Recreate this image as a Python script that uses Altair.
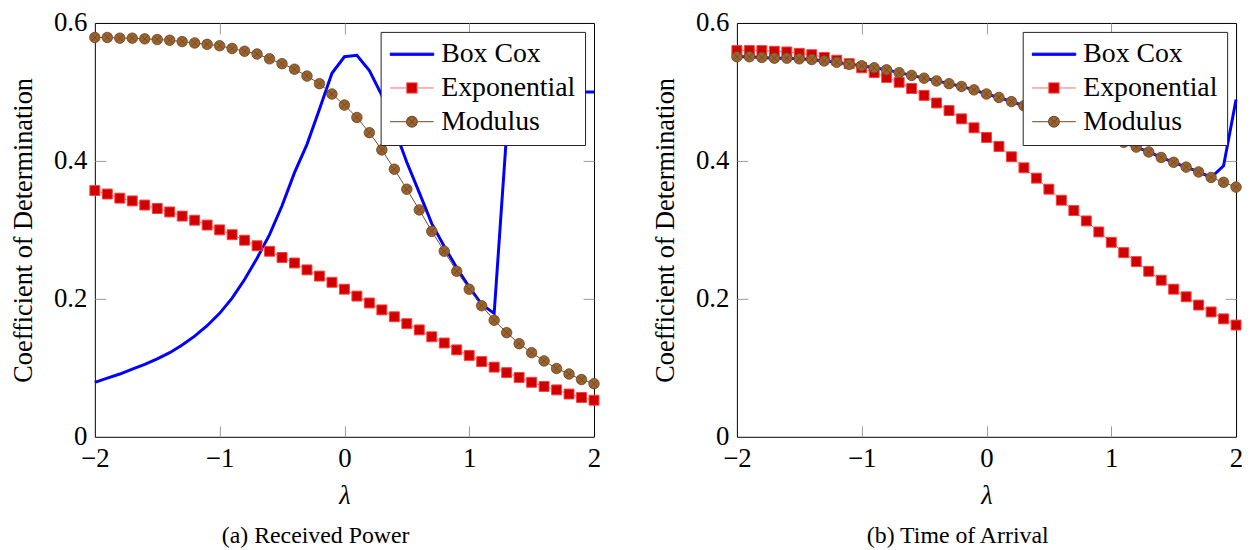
import altair as alt
import pandas as pd

# ---------------- data ----------------
lam = [-2.0, -1.9, -1.8, -1.7, -1.6, -1.5, -1.4, -1.3, -1.2, -1.1,
       -1.0, -0.9, -0.8, -0.7, -0.6, -0.5, -0.4, -0.3, -0.2, -0.1,
       0.0, 0.1, 0.2, 0.3, 0.4, 0.5, 0.6, 0.7, 0.8, 0.9,
       1.0, 1.1, 1.2, 1.3, 1.4, 1.5, 1.6, 1.7, 1.8, 1.9, 2.0]

series_names = ["Box Cox", "Exponential", "Modulus"]

# (a) Received Power
rp_boxcox = [0.079, 0.085, 0.091, 0.098, 0.105, 0.113, 0.122, 0.133, 0.146, 0.161,
             0.179, 0.201, 0.228, 0.259, 0.293, 0.335, 0.383, 0.424, 0.475, 0.527,
             0.551, 0.553, 0.531, 0.495, 0.447, 0.398, 0.354, 0.309, 0.276, 0.245,
             0.217, 0.192, 0.179, 0.440, 0.500, 0.500, 0.500, 0.500, 0.500, 0.500, 0.500]
rp_exp = [0.357, 0.352, 0.346, 0.342, 0.336, 0.331, 0.326, 0.320, 0.314, 0.307,
          0.300, 0.293, 0.285, 0.277, 0.269, 0.260, 0.252, 0.242, 0.233, 0.224,
          0.214, 0.204, 0.194, 0.184, 0.174, 0.164, 0.155, 0.145, 0.136, 0.126,
          0.118, 0.109, 0.101, 0.093, 0.086, 0.079, 0.073, 0.068, 0.062, 0.057, 0.053]
rp_mod = [0.579, 0.579, 0.578, 0.578, 0.577, 0.576, 0.575, 0.573, 0.571, 0.569,
          0.567, 0.563, 0.559, 0.555, 0.548, 0.541, 0.533, 0.523, 0.512, 0.497,
          0.481, 0.463, 0.441, 0.416, 0.388, 0.359, 0.329, 0.298, 0.269, 0.240,
          0.214, 0.190, 0.169, 0.151, 0.135, 0.122, 0.110, 0.099, 0.091, 0.083, 0.077]

# (b) Time of Arrival
toa_boxcox = [0.551, 0.551, 0.550, 0.549, 0.549, 0.548, 0.547, 0.545, 0.543, 0.540,
              0.538, 0.535, 0.532, 0.528, 0.524, 0.520, 0.516, 0.512, 0.508, 0.503,
              0.497, 0.492, 0.486, 0.480, 0.474, 0.467, 0.460, 0.453, 0.446, 0.439,
              0.433, 0.427, 0.420, 0.413, 0.405, 0.398, 0.391, 0.384, 0.376, 0.393, 0.489]
toa_exp = [0.560, 0.560, 0.560, 0.559, 0.558, 0.556, 0.554, 0.550, 0.546, 0.541,
           0.535, 0.528, 0.521, 0.514, 0.505, 0.495, 0.484, 0.473, 0.461, 0.448,
           0.434, 0.421, 0.406, 0.390, 0.375, 0.359, 0.343, 0.328, 0.313, 0.297,
           0.282, 0.267, 0.254, 0.240, 0.227, 0.214, 0.203, 0.191, 0.181, 0.171, 0.162]
toa_mod = [0.551, 0.551, 0.550, 0.549, 0.549, 0.548, 0.547, 0.545, 0.543, 0.540,
           0.538, 0.535, 0.532, 0.528, 0.524, 0.520, 0.516, 0.512, 0.508, 0.503,
           0.497, 0.492, 0.486, 0.480, 0.474, 0.467, 0.460, 0.453, 0.446, 0.439,
           0.433, 0.427, 0.420, 0.413, 0.405, 0.398, 0.391, 0.384, 0.376, 0.369, 0.362]

x_ticks = [-2, -1, 0, 1, 2]
y_ticks = [0, 0.2, 0.4, 0.6]
x_inner = [-1, 0, 1]
y_inner = [0.2, 0.4]

FONT = "Liberation Serif"

# marker / legend symbol shapes (unit box -1..1)
MOD_MARK = ("M1,0A1,1 0 1,1 -1,0A1,1 0 1,1 1,0Z"
            "M-0.7,-0.7L0.7,0.7M-0.7,0.7L0.7,-0.7")
LEG_BOX = "M-1,-0.05H1V0.05H-1Z"
LEG_EXP = "M-1,0H-0.24M0.24,0H1M-0.24,-0.24H0.24V0.24H-0.24Z"
LEG_MOD = ("M-1,0H-0.25M0.25,0H1"
           "M0.25,0A0.25,0.25 0 1,1 -0.25,0A0.25,0.25 0 1,1 0.25,0Z"
           "M-0.18,-0.18L0.18,0.18M-0.18,0.18L0.18,-0.18")


def make_df(boxcox, expo, mod):
    rows = []
    for name, vals in zip(series_names, [boxcox, expo, mod]):
        for lv, v in zip(lam, vals):
            rows.append({"lam": lv, "val": v, "series": name})
    return pd.DataFrame(rows)


xs = alt.Scale(domain=[-2, 2], nice=False, zero=False)
ys = alt.Scale(domain=[0, 0.6], nice=False, zero=False)

TEXT = dict(labelFont=FONT, labelFontSize=27, labelColor="black",
            titleFont=FONT, titleFontSize=26.5, titleFontWeight="normal",
            titleColor="black")


def tick_axis(orient, values):
    return alt.Axis(orient=orient, offset=-11, tickSize=11, tickColor="#9a9a9a",
                    tickWidth=1, labels=False, domain=False, grid=False,
                    title=None, values=values, minExtent=0)


def panel(df, caption):
    base = alt.Chart(df)

    main = base.mark_line(opacity=0).encode(
        x=alt.X("lam:Q", scale=xs, axis=alt.Axis(
            orient="bottom", values=x_ticks, format="d", ticks=False, domain=False,
            grid=False, labelPadding=9, labelFlush=False, labelOverlap=False,
            title="λ", titleFontStyle="italic", titlePadding=11, **TEXT)),
        y=alt.Y("val:Q", scale=ys, axis=alt.Axis(
            orient="left", values=y_ticks,
            labelExpr="datum.value == 0 ? '0' : format(datum.value, '.1f')",
            ticks=False, domain=False, grid=False, labelPadding=8,
            labelFlush=False, labelOverlap=False,
            title="Coefficient of Determination", titlePadding=16, **TEXT)),
        detail="series:N",
    )
    ticks_a = base.mark_line(opacity=0).encode(
        x=alt.X("lam:Q", scale=xs, axis=tick_axis("bottom", x_inner)),
        y=alt.Y("val:Q", scale=ys, axis=tick_axis("left", y_inner)),
        detail="series:N",
    )
    ticks_b = base.mark_line(opacity=0).encode(
        x=alt.X("lam:Q", scale=xs, axis=tick_axis("top", x_inner)),
        y=alt.Y("val:Q", scale=ys, axis=tick_axis("right", y_inner)),
        detail="series:N",
    )

    def xy():
        return dict(x=alt.X("lam:Q", scale=xs, axis=None),
                    y=alt.Y("val:Q", scale=ys, axis=None))

    box = base.transform_filter(alt.datum.series == "Box Cox").mark_line(
        color="#0000ff", strokeWidth=3).encode(**xy())
    exp_line = base.transform_filter(alt.datum.series == "Exponential").mark_line(
        color="#ff7070", strokeWidth=1).encode(**xy())
    exp_pts = base.transform_filter(alt.datum.series == "Exponential").mark_point(
        shape="square", filled=True, fill="#d00000", stroke="#ff3c3c",
        strokeWidth=1, size=100, opacity=1).encode(**xy())
    mod_line = base.transform_filter(alt.datum.series == "Modulus").mark_line(
        color="#7a4a20", strokeWidth=1).encode(**xy())
    mod_pts = base.transform_filter(alt.datum.series == "Modulus").mark_point(
        shape=MOD_MARK, filled=True, fill="#9a6430", stroke="#6e4522",
        strokeWidth=0.8, size=112, opacity=1).encode(**xy())

    leg = alt.Legend(title=None, orient="top-right", offset=9, padding=9,
                     fillColor="white", strokeColor="#222222",
                     labelFont=FONT, labelFontSize=28, labelColor="black",
                     labelOffset=7, labelLimit=500, symbolSize=1936,
                     symbolStrokeWidth=1, symbolOpacity=1, rowPadding=5,
                     clipHeight=27, cornerRadius=0)
    legend_layer = base.mark_point(opacity=0, filled=True).encode(
        **xy(),
        fill=alt.Fill("series:N", scale=alt.Scale(
            domain=series_names, range=["#0000ff", "#d00000", "#9a6430"]), legend=leg),
        stroke=alt.Stroke("series:N", scale=alt.Scale(
            domain=series_names, range=["#0000ff", "#ff6a6a", "#6e4522"]), legend=leg),
        shape=alt.Shape("series:N", scale=alt.Scale(
            domain=series_names, range=[LEG_BOX, LEG_EXP, LEG_MOD]), legend=leg),
    )

    return alt.layer(main, ticks_a, ticks_b, box, exp_line, exp_pts,
                     mod_line, mod_pts, legend_layer).resolve_axis(
        x="independent", y="independent").properties(
        width=503, height=417,
        title=alt.TitleParams(caption, orient="bottom", font=FONT, fontSize=24,
                              fontWeight="normal", color="black", offset=16,
                              anchor="middle", dx=-29))


left = panel(make_df(rp_boxcox, rp_exp, rp_mod), "(a) Received Power")
right = panel(make_df(toa_boxcox, toa_exp, toa_mod), "(b) Time of Arrival")

chart = alt.hconcat(left, right, spacing=50).resolve_scale(
    fill="independent", stroke="independent", shape="independent").resolve_legend(
    fill="independent", stroke="independent", shape="independent").properties(
    padding={"left": 1.5, "top": -2, "right": 0, "bottom": 0},
    background="white",
).configure_view(stroke="black", strokeWidth=1)

chart.save("out.html", embed_options={"renderer": "svg", "actions": False})
